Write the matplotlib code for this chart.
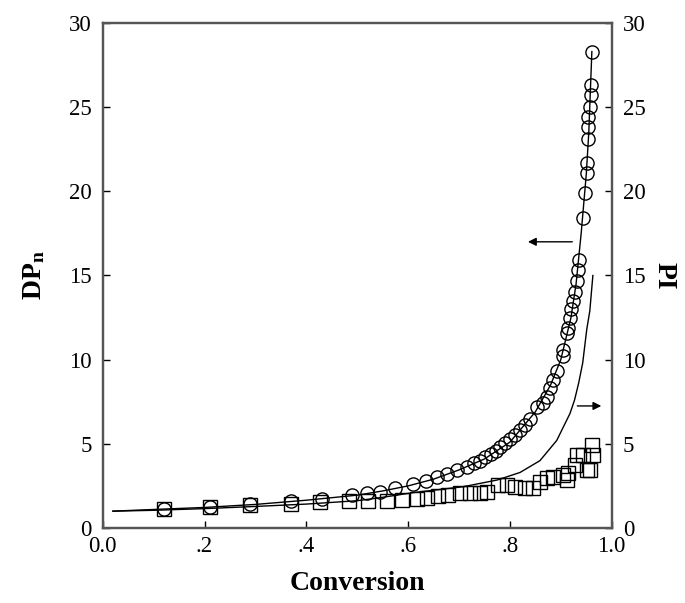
import matplotlib
matplotlib.use("Agg")
import matplotlib.pyplot as plt

plt.rcParams['font.family'] = ['Liberation Serif', 'DejaVu Serif']
plt.rcParams['mathtext.fontset'] = 'custom'
plt.rcParams['mathtext.rm'] = 'Liberation Serif'
plt.rcParams['mathtext.bf'] = 'Liberation Serif:bold'

# DPn experimental (circles)
dp_x = [0.12, 0.21, 0.29, 0.37, 0.43, 0.49, 0.52, 0.545, 0.575, 0.61, 0.635, 0.657, 0.677, 0.696,
        0.715, 0.73, 0.741, 0.752, 0.763, 0.772, 0.78, 0.79, 0.80, 0.81, 0.82, 0.83, 0.84, 0.853,
        0.865, 0.873, 0.878, 0.884, 0.892, 0.904, 0.904, 0.912, 0.914, 0.918, 0.921, 0.924, 0.927,
        0.931, 0.933, 0.935, 0.943, 0.947, 0.951, 0.951, 0.953, 0.953, 0.953, 0.957, 0.959, 0.959, 0.961]
dp_y = [1.13, 1.25, 1.4, 1.6, 1.75, 1.95, 2.05, 2.15, 2.35, 2.6, 2.8, 3.0, 3.2, 3.45,
        3.65, 3.85, 4.0, 4.2, 4.4, 4.6, 4.8, 5.05, 5.3, 5.55, 5.8, 6.1, 6.5, 7.2,
        7.4, 7.8, 8.3, 8.8, 9.3, 10.2, 10.6, 11.6, 11.9, 12.5, 13.0, 13.5, 14.0,
        14.7, 15.3, 15.9, 18.4, 19.9, 21.1, 21.7, 23.1, 23.8, 24.4, 25.0, 25.7, 26.3, 28.3]

# DPn fitted curve
fit_x = [0.02, 0.1, 0.2, 0.3, 0.4, 0.5, 0.55, 0.6, 0.65, 0.7, 0.75, 0.8, 0.85, 0.88, 0.9,
         0.92, 0.93, 0.94, 0.95, 0.955, 0.961]
fit_y = [1.0, 1.1, 1.22, 1.4, 1.65, 1.95, 2.2, 2.5, 2.9, 3.45, 4.1, 5.1, 6.9, 8.5, 10.0,
         12.5, 14.5, 17.5, 21.0, 23.5, 28.3]

# PI experimental (squares)
pi_x = [0.12, 0.21, 0.29, 0.37, 0.427, 0.483, 0.522, 0.558, 0.588, 0.617, 0.637, 0.659, 0.678,
        0.702, 0.722, 0.741, 0.755, 0.776, 0.794, 0.81, 0.829, 0.845, 0.859, 0.873, 0.884, 0.904,
        0.912, 0.914, 0.927, 0.931, 0.943, 0.951, 0.957, 0.961, 0.963]
pi_y = [1.13, 1.22, 1.35, 1.45, 1.55, 1.58, 1.6, 1.62, 1.66, 1.72, 1.78, 1.9, 1.96,
        2.05, 2.08, 2.08, 2.14, 2.55, 2.55, 2.44, 2.38, 2.38, 2.73, 2.97, 3.0, 3.15,
        2.85, 3.27, 3.74, 4.34, 4.34, 3.45, 3.45, 4.93, 4.34]

# PI theoretical curve
pit_x = [0.02, 0.1, 0.2, 0.3, 0.4, 0.5, 0.545, 0.61, 0.708, 0.775, 0.82, 0.859, 0.892, 0.918,
         0.927, 0.935, 0.943, 0.951, 0.957, 0.963]
pit_y = [1.0, 1.05, 1.15, 1.28, 1.42, 1.62, 1.8, 2.1, 2.45, 2.85, 3.3, 4.0, 5.2, 6.8,
         7.6, 8.6, 9.8, 11.8, 12.9, 15.0]

xticks = [0.0, 0.2, 0.4, 0.6, 0.8, 1.0]
xticklabels = ['0.0', '.2', '.4', '.6', '.8', '1.0']
yticks = [0, 5, 10, 15, 20, 25, 30]

fig = plt.figure(figsize=(6.85, 6.03), dpi=100)
ax = fig.add_axes([0.150, 0.1244, 0.743, 0.8375])
ax2 = ax.twinx()

ax.plot(fit_x, fit_y, color='black', lw=1.0, zorder=2)
ax.plot(dp_x, dp_y, linestyle='none', marker='o', ms=9.5, mfc='none', mec='black', mew=1.0, zorder=3)
ax2.plot(pit_x, pit_y, color='black', lw=1.0, zorder=2)
ax2.plot(pi_x, pi_y, linestyle='none', marker='s', ms=9.5, mfc='none', mec='black', mew=1.0, zorder=3)

for a in (ax, ax2):
    a.set_xlim(0, 1.0)
    a.set_ylim(0, 30)
    a.set_yticks(yticks)
    for s in a.spines.values():
        s.set_color('#555555')
        s.set_linewidth(1.6)

ax.set_xticks(xticks)
ax.set_xticklabels(xticklabels)
ax.tick_params(axis='both', direction='in', length=5, width=1, labelsize=16.5, colors='black', pad=8)
ax.tick_params(axis='x', pad=6)
ax2.tick_params(axis='y', direction='in', length=5, width=1, labelsize=16.5, pad=8)

ax.set_xlabel('Conversion', fontsize=20, fontweight='bold', labelpad=10)
ax.set_ylabel(r'$\mathbf{DP_n}$', fontsize=20, labelpad=16)
ax2.set_ylabel('PI', fontsize=20, fontweight='bold', rotation=270, labelpad=22)

# arrows indicating axes
ax.annotate('', xy=(0.83, 17.0), xytext=(0.928, 17.0),
            arrowprops=dict(arrowstyle='-|>', color='black', lw=1.0, mutation_scale=12))
ax.annotate('', xy=(0.985, 7.25), xytext=(0.927, 7.25),
            arrowprops=dict(arrowstyle='-|>', color='black', lw=1.0, mutation_scale=12))

fig.savefig('out.png', dpi=100)
